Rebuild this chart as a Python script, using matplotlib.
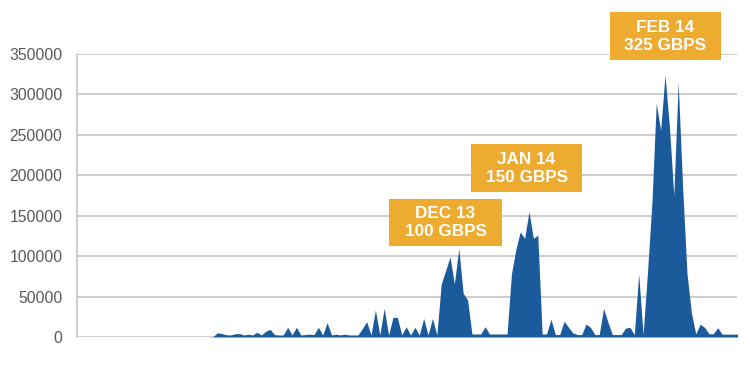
import numpy as np
import matplotlib
matplotlib.use("Agg")
import matplotlib.pyplot as plt
from matplotlib.patches import Rectangle

plt.rcParams['font.family'] = ['Liberation Sans', 'DejaVu Sans']

# Daily attack traffic (Mbps) - leading period with no traffic
lead_values = [0] * 30
traffic_values = [
    0, 500, 5300, 4200, 2800, 2500, 4000, 4300, 2500, 3500,
    2500, 5800, 2500, 7000, 9500, 3000, 2500, 2500, 12000, 2500,
    12000, 2500, 3000, 3500, 3000, 12000, 2500, 17700, 2500, 3500,
    2500, 3500, 2500, 2500, 2500, 10000, 19000, 2500, 33400, 2500,
    35500, 2500, 24300, 24300, 2500, 12700, 2500, 12000, 2500, 23000,
    2500, 23000, 2500, 65600, 82000, 99000, 66000, 109700, 54000, 45800,
    3700, 3700, 3700, 12700, 3700, 3700, 3700, 3700, 3700, 78000,
    108000, 130000, 122000, 155000, 122000, 126000, 3700, 3700, 22000, 3000,
    3000, 19500, 12000, 5000, 3000, 3000, 16000, 12000, 3000, 3000,
    35500, 18000, 3000, 3000, 3000, 11000, 12000, 3000, 78000, 3000,
    80000, 165000, 289000, 256000, 324000, 260000, 175000, 314600, 186000, 79000,
    30000, 4000, 15700, 12000, 4000, 4000, 11500, 3500, 3500, 3500,
    3500, 3500,
]
values = lead_values + traffic_values

yticks = [0, 50000, 100000, 150000, 200000, 250000, 300000, 350000]
callout_texts = ["DEC 13\n100 GBPS", "JAN 14\n150 GBPS", "FEB 14\n325 GBPS"]

blue = "#1B5A9B"
gold = "#EDAB30"
grid_grey = "#C0C0C0"
text_grey = "#595959"

W, H = 750, 366
fig = plt.figure(figsize=(7.5, 3.66), dpi=100)
ax = fig.add_axes([77 / W, 1 - 337 / H, (737 - 77) / W, (337 - 54) / H])

x = np.arange(len(values))
ax.fill_between(x, values, 0, color=blue, linewidth=0, zorder=3)

ax.set_xlim(0, 150.4)
ax.set_ylim(0, 350000)
ax.set_yticks(yticks)
ax.set_yticklabels([str(v) for v in yticks], fontsize=11.3, color=text_grey)
ax.set_xticks([])
ax.tick_params(axis='y', length=0, pad=10.5)
ax.grid(axis='y', color=grid_grey, linewidth=1.1, zorder=0)
ax.set_axisbelow(True)
for s in ['top', 'right', 'bottom']:
    ax.spines[s].set_visible(False)
ax.spines['left'].set_color(grid_grey)
ax.spines['left'].set_linewidth(1.1)

# Callout boxes (pixel layout: left, top, right, bottom)
boxes = [(389, 199, 502, 246), (471, 144, 582, 192), (610, 12, 721, 60)]
for (l, t, r, b), txt in zip(boxes, callout_texts):
    fig.patches.append(Rectangle((l / W, 1 - b / H), (r - l) / W, (b - t) / H,
                                 transform=fig.transFigure, facecolor=gold,
                                 edgecolor='none', zorder=5))
    fig.text((l + r) / 2 / W, 1 - (t + b) / 2 / H, txt, ha='center', va='center',
             color='white', fontsize=12.3, fontweight='bold', linespacing=1.25,
             zorder=6)

fig.savefig("out.png", dpi=100)
